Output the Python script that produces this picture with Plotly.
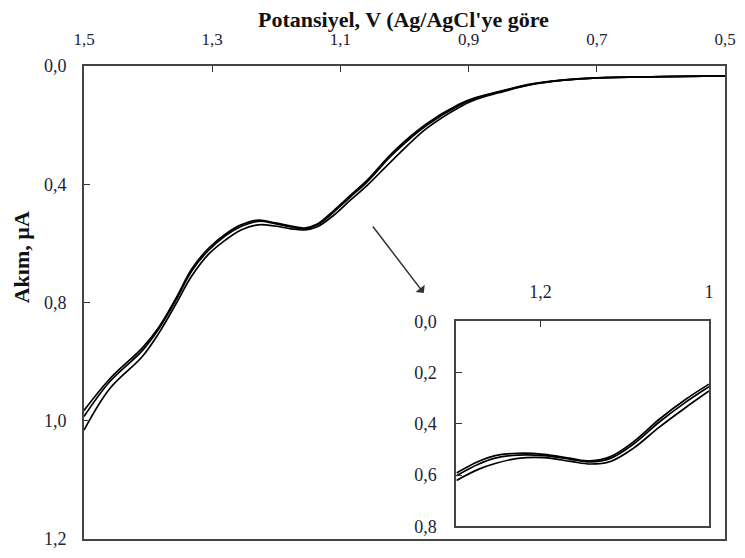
import plotly.graph_objects as go

# main panel: potential (V) and current for the three scans
pot = [1.500, 1.460, 1.409, 1.383, 1.356, 1.332, 1.306, 1.279, 1.255, 1.228,
       1.202, 1.177, 1.156, 1.136, 1.110, 1.085, 1.059, 1.017, 0.966, 0.915,
       0.889, 0.853, 0.801, 0.750, 0.699, 0.596, 0.500]
scan1 = [0.874, 0.794, 0.715, 0.662, 0.588, 0.515, 0.463, 0.426, 0.403, 0.391,
         0.398, 0.406, 0.411, 0.401, 0.366, 0.329, 0.291, 0.217, 0.147, 0.097,
         0.080, 0.065, 0.045, 0.035, 0.030, 0.027, 0.025]
scan2 = [0.889, 0.801, 0.722, 0.666, 0.592, 0.520, 0.468, 0.430, 0.407, 0.394,
         0.400, 0.408, 0.413, 0.403, 0.370, 0.333, 0.295, 0.222, 0.151, 0.100,
         0.082, 0.066, 0.046, 0.035, 0.030, 0.027, 0.025]
scan3 = [0.924, 0.819, 0.737, 0.677, 0.602, 0.533, 0.478, 0.441, 0.416, 0.403,
         0.406, 0.413, 0.416, 0.408, 0.378, 0.341, 0.304, 0.236, 0.159, 0.105,
         0.085, 0.068, 0.047, 0.036, 0.030, 0.027, 0.025]

main_xticks = [1.5, 1.3, 1.1, 0.9, 0.7, 0.5]
main_yticks = [0.0, 0.3, 0.6, 0.9, 1.2]
main_ylabels = ["0,0", "0,4", "0,8", "1,0", "1,2"]

# inset (zoomed view)
pot_in = [1.300, 1.274, 1.254, 1.227, 1.196, 1.164, 1.141, 1.117, 1.090, 1.059, 1.028, 1.000]
in1 = [0.592, 0.547, 0.524, 0.515, 0.519, 0.535, 0.545, 0.528, 0.471, 0.382, 0.305, 0.245]
in2 = [0.603, 0.558, 0.534, 0.522, 0.524, 0.539, 0.549, 0.535, 0.480, 0.393, 0.316, 0.255]
in3 = [0.621, 0.578, 0.555, 0.535, 0.532, 0.547, 0.557, 0.547, 0.496, 0.413, 0.337, 0.272]
in_xticks = [1.2, 1.0]
in_xlabels = ["1,2", "1"]
in_yticks = [0.0, 0.2, 0.4, 0.6, 0.8]

font = "Liberation Serif, Times New Roman, serif"
txt = "#222233"

fig = go.Figure()
for s in (scan1, scan2, scan3):
    fig.add_trace(go.Scatter(x=pot, y=s, mode="lines", line=dict(color="black", width=1.7, shape="spline"),
                             xaxis="x", yaxis="y", showlegend=False))
for s in (in1, in2, in3):
    fig.add_trace(go.Scatter(x=pot_in, y=s, mode="lines", line=dict(color="black", width=1.7, shape="spline"),
                             xaxis="x2", yaxis="y2", showlegend=False))

ax_common = dict(showgrid=False, zeroline=False, showline=True, linecolor="#444",
                 linewidth=2, mirror=True, ticks="inside", ticklen=6, tickcolor="#333",
                 tickfont=dict(family=font, size=18, color=txt))

# page body adds an 8px offset, so the figure is sized a little smaller than the window
fig.update_layout(
    width=737, height=550,
    margin=dict(l=76, r=12, t=58, b=9),
    paper_bgcolor="white", plot_bgcolor="white",
    xaxis=dict(ax_common, domain=[0, 1], side="top", range=[1.5, 0.5], ticklabelstandoff=12,
               tickfont=dict(family=font, size=17, color=txt),
               tickvals=main_xticks, ticktext=[f"{v:.1f}".replace(".", ",") for v in main_xticks]),
    yaxis=dict(ax_common, domain=[0, 1], range=[1.2, 0.0], ticklabelstandoff=12,
               tickvals=main_yticks, ticktext=main_ylabels),
    xaxis2=dict(ax_common, domain=[0.581, 0.975], anchor="y2", side="top", range=[1.3, 1.0],
                ticklabelstandoff=14, tickvals=in_xticks, ticktext=in_xlabels),
    yaxis2=dict(ax_common, domain=[0.027, 0.46], anchor="x2", range=[0.8, 0.0],
                ticklabelstandoff=14, tickvals=in_yticks,
                ticktext=[f"{v:.1f}".replace(".", ",") for v in in_yticks]),
    annotations=[
        dict(text="<b>Potansiyel, V (Ag/AgCl'ye göre</b>", xref="paper", yref="paper",
             x=0.499, y=1.098, xanchor="center", yanchor="middle", showarrow=False,
             font=dict(family=font, size=22, color="#111")),
        dict(text="<b>Akım, µA</b>", xref="paper", yref="paper", textangle=-90,
             x=-0.098, y=0.596, xanchor="center", yanchor="middle", showarrow=False,
             font=dict(family=font, size=22, color="#111")),
        dict(text="", xref="paper", yref="paper", x=0.53, y=0.52,
             ax=-52, ay=-68, showarrow=True, arrowhead=1, arrowsize=1.3,
             arrowwidth=1.5, arrowcolor="#333"),
    ],
)

fig.write_html("out.html")
